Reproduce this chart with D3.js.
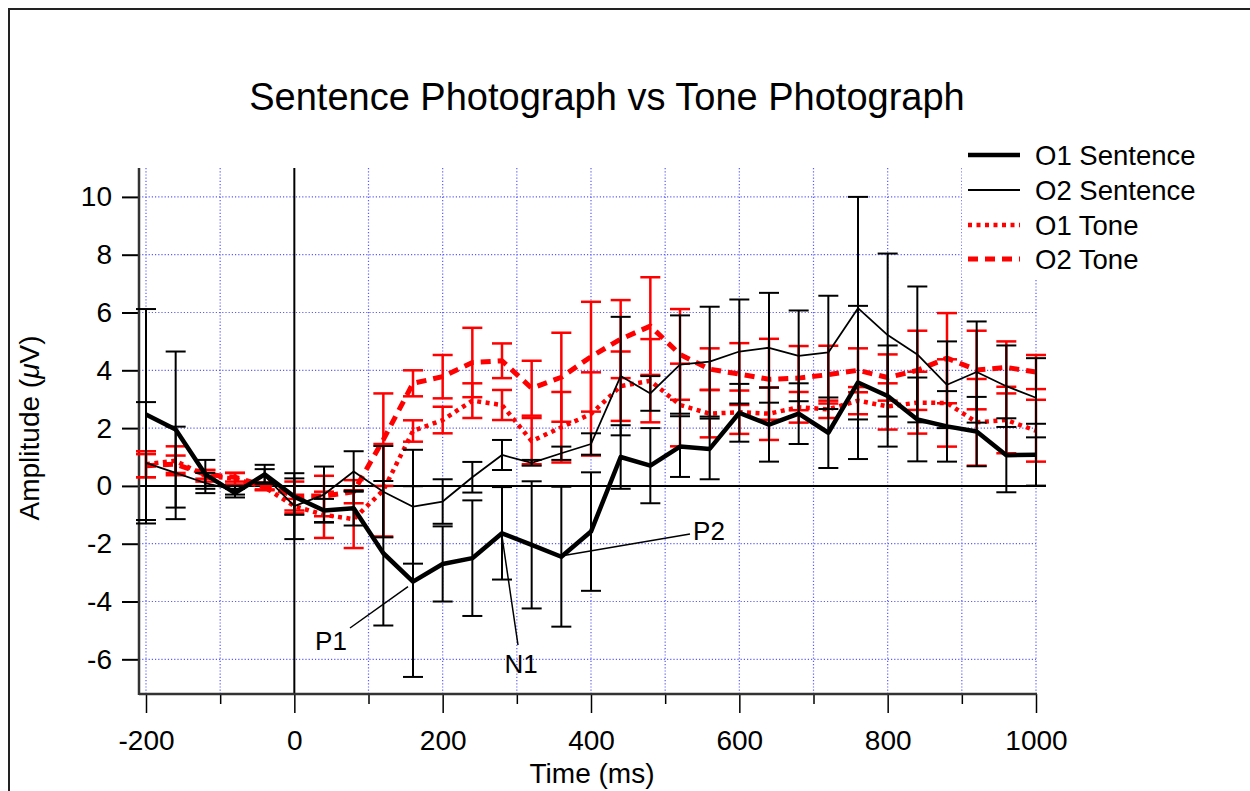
<!DOCTYPE html>
<html><head><meta charset="utf-8">
<script src="https://cdn.jsdelivr.net/npm/d3@7"></script>
<style>
body{margin:0;background:#fff}
svg{display:block}
text{font-family:"Liberation Sans",Arial,Helvetica,sans-serif;fill:#000}
</style>
</head><body>
<svg id="c" width="1250" height="791"></svg>
<script>
// ---------- data ----------
const times = [-200,-160,-120,-80,-40,0,40,80,120,160,200,240,280,320,360,400,440,480,520,560,600,640,680,720,760,800,840,880,920,960,1000];

const o1Sentence    = [2.47,1.95,0.4,-0.25,0.4,-0.37,-0.85,-0.77,-2.33,-3.31,-2.7,-2.5,-1.64,-2.04,-2.45,-1.58,1.0,0.7,1.36,1.28,2.53,2.12,2.5,1.84,3.58,3.11,2.3,2.06,1.88,1.06,1.08];
const o1SentenceErr = [3.65,2.7,0.5,0.15,0.33,0.63,0.4,0.6,2.5,3.3,1.3,2.0,1.6,2.2,2.42,2.05,1.1,1.3,1.05,1.05,1.0,1.28,1.05,1.22,2.65,1.75,1.45,1.22,1.2,1.28,1.07];

const o2Sentence    = [0.8,0.45,0.1,-0.15,0.35,-0.7,-0.3,0.5,-0.2,-0.72,-0.54,0.3,1.07,0.8,1.13,1.45,3.8,3.2,4.2,4.3,4.65,4.78,4.5,4.62,6.15,5.22,4.55,3.5,3.94,3.45,3.05];
const o2SentenceErr = [2.1,1.6,0.35,0.15,0.23,1.14,0.97,0.7,1.58,1.97,0.77,0.53,0.52,0.1,0.23,0.37,2.05,0.6,1.7,1.9,1.8,1.9,1.57,1.96,3.85,2.82,2.35,1.5,1.75,1.41,1.37];

const o1Tone        = [0.75,0.87,0.35,0.25,-0.05,-0.7,-1.0,-1.15,-0.15,1.9,2.28,2.95,2.8,1.55,2.03,2.49,3.45,3.64,2.8,2.5,2.55,2.5,2.72,2.65,2.95,2.75,2.88,2.87,2.2,2.28,1.91];
const o1ToneErr     = [0.45,0.5,0.2,0.2,0.1,0.25,0.8,1.0,1.6,0.37,0.46,0.6,0.52,0.8,1.22,1.44,1.2,1.44,1.43,0.82,0.75,0.91,0.53,0.3,0.47,0.8,1.07,1.51,1.5,1.15,1.07];

const o2Tone        = [0.7,0.75,0.4,0.3,0.0,-0.35,-0.35,-0.2,1.6,3.55,3.78,4.27,4.33,3.38,3.76,4.47,5.08,5.53,4.55,4.04,3.87,3.69,3.73,3.85,4.0,3.75,4.0,4.42,4.01,4.1,3.94];
const o2ToneErr     = [0.4,0.3,0.15,0.15,0.12,0.5,0.7,0.4,1.6,0.45,0.75,1.2,0.6,0.95,1.54,1.9,1.35,1.69,1.57,0.72,1.07,1.4,1.11,1.0,0.76,0.8,1.37,1.56,1.36,0.9,0.59];

const seriesNames = ["O1 Sentence","O2 Sentence","O1 Tone","O2 Tone"];
const xTickValues = [-200,0,200,400,600,800,1000];
const xMinorTicks = [-100,100,300,500,700,900];
const yTickValues = [-6,-4,-2,0,2,4,6,8,10];
const gridX = [-200,-100,100,200,300,400,500,600,700,800,900,1000];
const gridY = [-6,-4,-2,2,4,6,8,10];
const annotations = [
  {label:"P1", t:160},
  {label:"N1", t:280},
  {label:"P2", t:360}
];
const titleText = "Sentence Photograph vs Tone Photograph";

// ---------- styles ----------
const styles = [
  {name:seriesNames[0], vals:o1Sentence, errs:o1SentenceErr, color:"#000", width:4.5, dash:null, ew:2},
  {name:seriesNames[1], vals:o2Sentence, errs:o2SentenceErr, color:"#000", width:1.8, dash:null, ew:2},
  {name:seriesNames[2], vals:o1Tone, errs:o1ToneErr, color:"#ff0000", width:4.5, dash:"4,4.5", ew:2.5},
  {name:seriesNames[3], vals:o2Tone, errs:o2ToneErr, color:"#ff0000", width:5, dash:"10,7", ew:2.5}
];

const svg = d3.select("#c");
const x = d3.scaleLinear().domain([-200,1000]).range([146,1036]);
const y = d3.scaleLinear().domain([-7.2,11]).range([694,168]);
const axisLeftX = 139;
const fmt = d => String(d);

// frame
svg.append("rect").attr("x",9).attr("y",9).attr("width",1400).attr("height",1000)
  .attr("fill","none").attr("stroke","#222").attr("stroke-width",2);

// title
svg.append("text").attr("x",607).attr("y",110).attr("text-anchor","middle")
  .style("font-size","38px").text(titleText);

// grid
const grid = svg.append("g");
grid.selectAll(".gx").data(gridX).join("line")
  .attr("x1",d=>x(d)).attr("x2",d=>x(d)).attr("y1",y(11)).attr("y2",y(-7.2))
  .attr("stroke","#5c5cff").attr("stroke-width",1.2).attr("stroke-dasharray","1.2,2");
grid.selectAll(".gy").data(gridY).join("line")
  .attr("x1",axisLeftX).attr("x2",x(1000)).attr("y1",d=>y(d)).attr("y2",d=>y(d))
  .attr("stroke","#5c5cff").attr("stroke-width",1.2).attr("stroke-dasharray","1.2,2");

// zero lines
svg.append("line").attr("x1",axisLeftX).attr("x2",x(1000)+10).attr("y1",y(0)).attr("y2",y(0))
  .attr("stroke","#000").attr("stroke-width",2);
svg.append("line").attr("x1",x(0)).attr("x2",x(0)).attr("y1",y(11)).attr("y2",y(-7.2))
  .attr("stroke","#000").attr("stroke-width",2);

// axes
const xAxis = d3.axisBottom(x).tickValues(xTickValues).tickSize(19).tickPadding(10).tickFormat(fmt);
const gx = svg.append("g").attr("transform",`translate(0,${y(-7.2)})`).call(xAxis);
gx.select(".domain").remove();
gx.selectAll(".tick line").attr("stroke","#000").attr("stroke-width",1.5);
gx.selectAll(".tick text").style("font-size","28px").style("font-family","Liberation Sans, Arial, sans-serif").attr("dy","0.95em").attr("y",29);
const xMinor = d3.axisBottom(x).tickValues(xMinorTicks).tickSize(10).tickFormat("");
const gxm = svg.append("g").attr("transform",`translate(0,${y(-7.2)})`).call(xMinor);
gxm.select(".domain").remove();
gxm.selectAll(".tick line").attr("stroke","#000").attr("stroke-width",1.5);
svg.append("line").attr("x1",axisLeftX).attr("x2",x(1000)+1).attr("y1",y(-7.2)).attr("y2",y(-7.2))
  .attr("stroke","#333").attr("stroke-width",2.5);

const yAxis = d3.axisLeft(y).tickValues(yTickValues).tickSize(17).tickPadding(10).tickFormat(fmt);
const gy = svg.append("g").attr("transform",`translate(${axisLeftX},0)`).call(yAxis);
gy.select(".domain").remove();
gy.selectAll(".tick line").attr("stroke","#000").attr("stroke-width",2);
gy.selectAll(".tick text").style("font-size","28px").style("font-family","Liberation Sans, Arial, sans-serif");
svg.append("line").attr("x1",axisLeftX).attr("x2",axisLeftX).attr("y1",y(11)).attr("y2",y(-7.2)+1)
  .attr("stroke","#333").attr("stroke-width",2.5);

// axis titles
svg.append("text").attr("x",592).attr("y",783).attr("text-anchor","middle")
  .style("font-size","28px").text("Time (ms)");
const yl = svg.append("text").attr("transform","translate(39,428) rotate(-90)").attr("text-anchor","middle")
  .style("font-size","28px");
yl.append("tspan").text("Amplitude (");
yl.append("tspan").style("font-style","italic").text("\u03bc");
yl.append("tspan").text("V)");

// series
const order = [2,3,0,1];
const capHalf = 10;
order.forEach(i=>{
  const s = styles[i];
  const g = svg.append("g");
  const pts = times.map((t,k)=>({t, v:s.vals[k], e:s.errs[k]}));
  g.selectAll(".eb").data(pts).join("line")
    .attr("x1",d=>x(d.t)).attr("x2",d=>x(d.t)).attr("y1",d=>y(d.v+d.e)).attr("y2",d=>y(d.v-d.e))
    .attr("stroke",s.color).attr("stroke-width",s.ew);
  g.selectAll(".ct").data(pts).join("line")
    .attr("x1",d=>x(d.t)-capHalf).attr("x2",d=>x(d.t)+capHalf).attr("y1",d=>y(d.v+d.e)).attr("y2",d=>y(d.v+d.e))
    .attr("stroke",s.color).attr("stroke-width",s.ew);
  g.selectAll(".cb").data(pts).join("line")
    .attr("x1",d=>x(d.t)-capHalf).attr("x2",d=>x(d.t)+capHalf).attr("y1",d=>y(d.v-d.e)).attr("y2",d=>y(d.v-d.e))
    .attr("stroke",s.color).attr("stroke-width",s.ew);
  const line = d3.line().x(d=>x(d.t)).y(d=>y(d.v));
  g.append("path").datum(pts).attr("d",line).attr("fill","none")
    .attr("stroke",s.color).attr("stroke-width",s.width)
    .attr("stroke-dasharray",s.dash).attr("stroke-linejoin","round");
});

// annotations
const annOffsets = {P1:{lx:350,ly:628,tx:331,ty:650,ex:-5,ey:5}, N1:{lx:518,ly:645,tx:521,ty:673,ex:0,ey:3}, P2:{lx:690,ly:534,tx:709,ty:540,ex:1,ey:-1}};
annotations.forEach(a=>{
  const k = times.indexOf(a.t);
  const px = x(a.t), py = y(o1Sentence[k]);
  const o = annOffsets[a.label];
  svg.append("line").attr("x1",o.lx).attr("y1",o.ly).attr("x2",px+o.ex).attr("y2",py+o.ey)
    .attr("stroke","#000").attr("stroke-width",1.5);
  svg.append("text").attr("x",o.tx).attr("y",o.ty).attr("text-anchor","middle")
    .style("font-size","26px").text(a.label);
});

// legend
const leg = svg.append("g");
leg.append("rect").attr("x",962).attr("y",136).attr("width",270).attr("height",142).attr("fill","#fff");
const legY = [155,190,225,259];
styles.forEach((s,i)=>{
  leg.append("line").attr("x1",968).attr("x2",1020).attr("y1",legY[i]).attr("y2",legY[i])
    .attr("stroke",s.color).attr("stroke-width",s.width).attr("stroke-dasharray",s.dash);
  leg.append("text").attr("x",1035).attr("y",legY[i]+10).style("font-size","27.5px").text(s.name);
});
</script>
</body></html>
